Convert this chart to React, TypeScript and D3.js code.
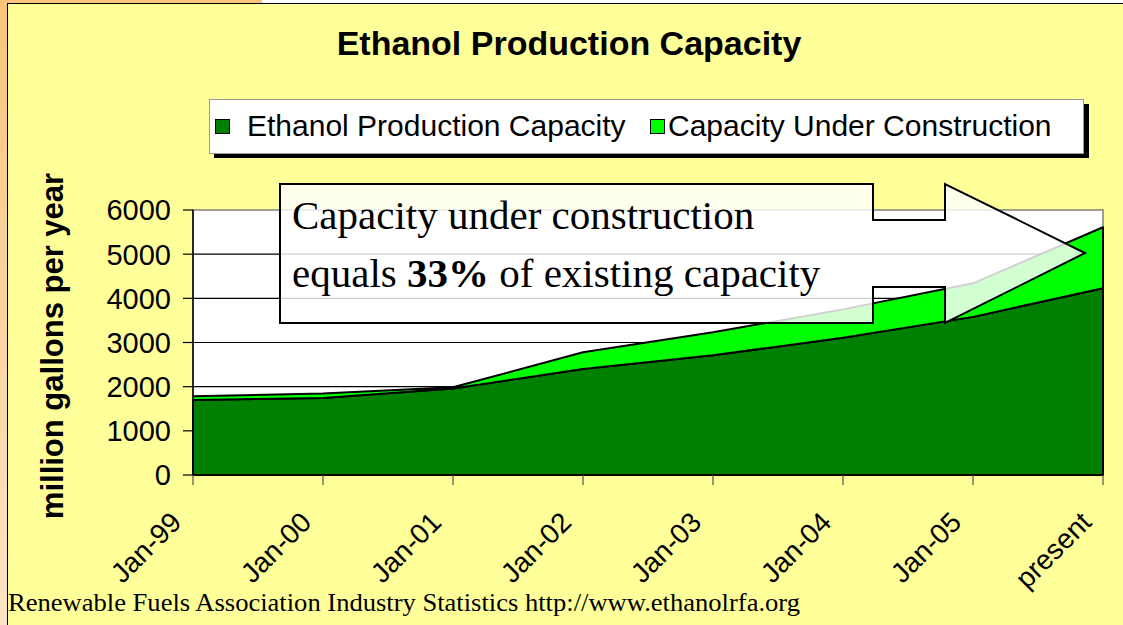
import React from "react";
import * as d3 from "d3";

// categories along the x axis
const categories = ["Jan-99", "Jan-00", "Jan-01", "Jan-02", "Jan-03", "Jan-04", "Jan-05", "present"];
// million gallons per year
const capacity = [1700, 1745, 1960, 2400, 2710, 3110, 3580, 4230];
const underConstruction = [85, 100, 25, 380, 520, 640, 760, 1380];
const seriesNames = ["Ethanol Production Capacity", "Capacity Under Construction"];
const seriesColors = ["#008000", "#00FF00"];
const yTicks = [0, 1000, 2000, 3000, 4000, 5000, 6000];

const W = 1123,
  H = 625;
const plotLeft = 193,
  plotRight = 1103,
  plotTop = 210,
  plotBottom = 475;

const sans = "'Liberation Sans', Arial, sans-serif";
const serif = "'Liberation Serif', 'Times New Roman', serif";

export default function App() {
  const x = d3.scalePoint<string>().domain(categories).range([plotLeft, plotRight]);
  const y = d3.scaleLinear().domain([0, 6000]).range([plotBottom, plotTop]);

  const rows = categories.map((c, i) => ({ cat: c, capacity: capacity[i], construction: underConstruction[i] }));
  const stacked = d3.stack<any>().keys(["capacity", "construction"])(rows);

  const area = d3
    .area<any>()
    .x((d) => x(d.data.cat) as number)
    .y0((d) => y(d[0]))
    .y1((d) => y(d[1]));

  // callout arrow outline
  const arrow = d3.line()([
    [280, 184], [873, 184], [873, 220], [945, 220], [945, 184], [1085, 253],
    [945, 323], [945, 287], [873, 287], [873, 323], [280, 323],
  ]) + "Z";

  return (
    <div style={{ position: "absolute", left: 0, top: 0 }}>
      <svg width={W} height={H} style={{ display: "block" }}>
        <defs>
          <linearGradient id="edge" x1="0" y1="0" x2="0" y2="1">
            <stop offset="0" stopColor="#F8C57A" />
            <stop offset="1" stopColor="#FCE4C4" />
          </linearGradient>
        </defs>
        <rect x={0} y={0} width={W} height={H} fill="#fff" />
        <rect x={0} y={0} width={262} height={4} fill="#F8C57A" />
        <rect x={0} y={0} width={8} height={H} fill="url(#edge)" />
        <rect x={7.5} y={3.5} width={W} height={H} fill="#FFFF99" stroke="#000" strokeWidth={1} />

        {/* title */}
        <text x={569} y={55} textAnchor="middle" fontFamily={sans} fontWeight="bold" fontSize={34}>
          Ethanol Production Capacity
        </text>

        {/* legend */}
        <rect x={214} y={104} width={875} height={54} fill="#000" />
        <rect x={209.5} y={99.5} width={874} height={54} fill="#fff" stroke="#999" />
        {seriesNames.map((name, i) => {
          const lx = i === 0 ? 215 : 650;
          return (
            <g key={name}>
              <rect x={lx + 0.5} y={119.5} width={14} height={14} fill={seriesColors[i]} stroke="#000" />
              <text x={lx + 32 - (i === 1 ? 14 : 0)} y={136} fontFamily={sans} fontSize={30}>
                {name}
              </text>
            </g>
          );
        })}

        {/* plot area */}
        <rect x={plotLeft} y={plotTop} width={plotRight - plotLeft} height={plotBottom - plotTop} fill="#fff" stroke="#808080" strokeWidth={1.5} />
        {yTicks.slice(1, -1).map((t) => (
          <line key={t} x1={plotLeft} x2={plotRight} y1={y(t)} y2={y(t)} stroke="#000" strokeWidth={1.2} />
        ))}

        {stacked.map((s, i) => (
          <path key={s.key} d={area(s) as string} fill={seriesColors[i]} stroke="#000" strokeWidth={2} strokeLinejoin="round" />
        ))}

        {/* axes */}
        <line x1={plotLeft} x2={plotLeft} y1={plotTop} y2={plotBottom} stroke="#000" strokeWidth={1.5} />
        <line x1={plotLeft} x2={plotRight} y1={plotBottom} y2={plotBottom} stroke="#000" strokeWidth={2} />
        {yTicks.map((t) => (
          <g key={t}>
            <line x1={plotLeft - 10} x2={plotLeft} y1={y(t)} y2={y(t)} stroke="#000" strokeWidth={1.2} />
            <text x={171} y={y(t)} dy="0.36em" textAnchor="end" fontFamily={sans} fontSize={29}>
              {t}
            </text>
          </g>
        ))}
        {categories.map((c) => {
          const cx = x(c) as number;
          return (
            <g key={c}>
              <line x1={cx} x2={cx} y1={plotBottom} y2={plotBottom + 10} stroke="#555" strokeWidth={1.2} />
              <text
                transform={`translate(${cx - 10},${plotBottom + 49}) rotate(-45)`}
                textAnchor="end"
                fontFamily={sans}
                fontSize={28}
              >
                {c}
              </text>
            </g>
          );
        })}

        <text
          transform="translate(63,346) rotate(-90)"
          textAnchor="middle"
          fontFamily={sans}
          fontWeight="bold"
          fontSize={31}
        >
          million gallons per year
        </text>

        {/* callout */}
        <path d={arrow} fill="#fff" fillOpacity={0.82} stroke="#000" strokeWidth={2} />
        <text x={292} y={229} fontFamily={serif} fontSize={41}>
          Capacity under construction
        </text>
        <text x={292} y={287} fontFamily={serif} fontSize={41}>
          equals <tspan fontWeight="bold">33%</tspan> of existing capacity
        </text>

        <text x={8} y={611} fontFamily={serif} fontSize={25} textLength={792} lengthAdjust="spacingAndGlyphs">
          Renewable Fuels Association Industry Statistics http://www.ethanolrfa.org
        </text>
      </svg>
    </div>
  );
}
